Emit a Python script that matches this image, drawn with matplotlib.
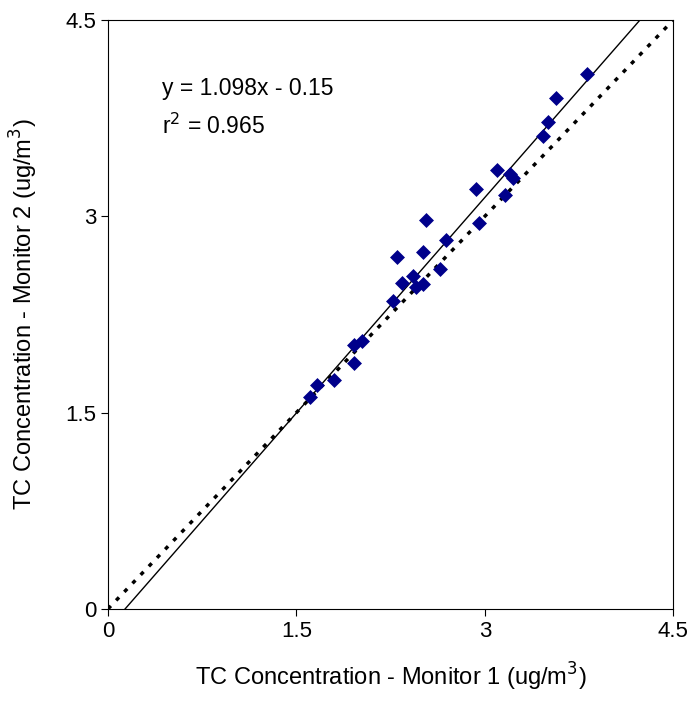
import matplotlib
matplotlib.use("Agg")
import matplotlib.pyplot as plt
import numpy as np

plt.rcParams['font.family'] = ['Liberation Sans', 'DejaVu Sans']

x = [1.61,1.66,1.80,1.96,1.96,2.02,2.27,2.30,2.34,2.43,2.45,2.51,2.51,2.53,2.64,2.69,2.93,2.95,3.10,3.16,3.20,3.22,3.46,3.50,3.57,3.81]
y = [1.62,1.71,1.75,2.02,1.88,2.05,2.35,2.69,2.49,2.54,2.46,2.73,2.48,2.97,2.60,2.82,3.21,2.95,3.35,3.16,3.32,3.29,3.61,3.72,3.90,4.09]
slope, intercept = 1.098, -0.15
ticks = [0, 1.5, 3, 4.5]
tick_labels = ["0", "1.5", "3", "4.5"]

fig = plt.figure(figsize=(6.92, 7.13), dpi=100)
ax = fig.add_axes([0.156, 0.146, 0.817, 0.826])
xx = np.array([0, 4.5])
ax.plot(xx, xx, linestyle=(0, (1.2, 2.2)), color='black', lw=2.5)
ax.plot(xx, slope*xx + intercept, color='black', lw=1)
ax.scatter(x, y, marker='D', s=58, color='#00008B', zorder=3, linewidths=0)
ax.set_xlim(0, 4.5); ax.set_ylim(0, 4.5)
ax.set_xticks(ticks); ax.set_xticklabels(tick_labels)
ax.set_yticks(ticks); ax.set_yticklabels(tick_labels)
ax.tick_params(labelsize=16, direction='out', length=5)
ax.set_xlabel("TC Concentration - Monitor 1 (ug/m$^3$)", fontsize=17, labelpad=14)
ax.set_ylabel("TC Concentration - Monitor 2 (ug/m$^3$)", fontsize=17, labelpad=18)
ax.text(0.43, 3.93, "y = 1.098x - 0.15", fontsize=16.5)
ax.text(0.43, 3.63, "r$^2$ = 0.965", fontsize=16.5)
fig.savefig("out.png", dpi=100)
